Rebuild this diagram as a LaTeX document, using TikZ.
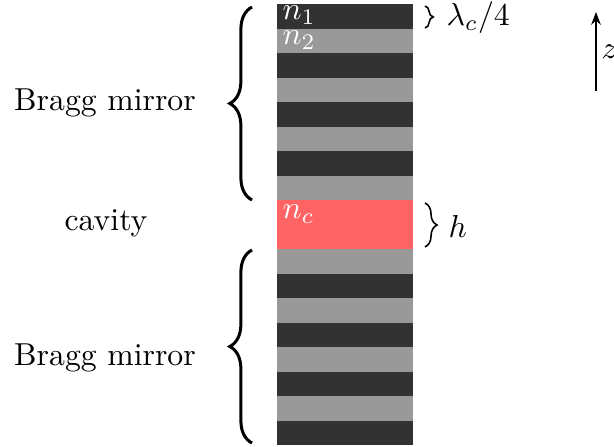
\documentclass[tikz,border=0pt]{standalone}
\usetikzlibrary{decorations.pathreplacing,arrows.meta}
\definecolor{darklayer}{RGB}{50,50,50}
\definecolor{lightlayer}{RGB}{153,153,153}
\definecolor{cavityred}{RGB}{255,99,99}
\begin{document}
\begin{tikzpicture}[x=0.315pt,y=-0.315pt,
  bigbrace/.style={decorate,decoration={brace,amplitude=7pt},line width=0.95pt},
  smallbrace/.style={decorate,decoration={brace,amplitude=#1},line width=0.5pt},
  whitelabel/.style={anchor=west,text=white,inner sep=0pt},
  sidelabel/.style={inner sep=0pt}]
\useasboundingbox (0,0) rectangle (614,447);
% top Bragg mirror
\foreach \i in {0,...,7}{
  \pgfmathsetmacro{\ytop}{4+24.5*\i}
  \pgfmathtruncatemacro{\odd}{mod(\i,2)}
  \ifnum\odd=0
    \fill[darklayer] (277,\ytop) rectangle (413,\ytop+24.5);
  \else
    \fill[lightlayer] (277,\ytop) rectangle (413,\ytop+24.5);
  \fi
}
% cavity
\fill[cavityred] (277,200) rectangle (413,249);
% bottom Bragg mirror
\foreach \i in {0,...,7}{
  \pgfmathsetmacro{\ytop}{249+24.5*\i}
  \pgfmathtruncatemacro{\odd}{mod(\i,2)}
  \ifnum\odd=0
    \fill[lightlayer] (277,\ytop) rectangle (413,\ytop+24.5);
  \else
    \fill[darklayer] (277,\ytop) rectangle (413,\ytop+24.5);
  \fi
}
% layer labels
\node[whitelabel] (n1) at (282,15) {$n_1$};
\node[whitelabel] (n2) at (282,40) {$n_2$};
\node[whitelabel] (nc) at (282,214) {$n_c$};
% big braces
\coordinate (tb1) at (252,200);
\coordinate (tb2) at (252,7);
\draw[bigbrace] (tb1) -- (tb2);
\coordinate (bb1) at (252,443);
\coordinate (bb2) at (252,250);
\draw[bigbrace] (bb1) -- (bb2);
% side labels
\node[sidelabel] (bragg1) at (105,103) {Bragg mirror};
\node[sidelabel] (cav) at (106,223) {cavity};
\node[sidelabel] (bragg2) at (105,358) {Bragg mirror};
% small braces
\coordinate (lb1) at (425,6);
\coordinate (lb2) at (425,28);
\draw[smallbrace=2.6pt] (lb1) -- (lb2);
\node[anchor=west,inner sep=0pt] (lam) at (446,18) {$\lambda_c/4$};
\coordinate (hb1) at (425,203);
\coordinate (hb2) at (425,247);
\draw[smallbrace=3.8pt] (hb1) -- (hb2);
\node[anchor=west,inner sep=0pt] (h) at (448,226) {$h$};
% z axis
\coordinate (z0) at (596,91);
\coordinate (z1) at (596,12);
\draw[line width=0.6pt,-{Stealth[length=4pt,width=3pt]}] (z0) -- (z1);
\node[anchor=west,inner sep=0pt] (zl) at (601,52) {$z$};
\end{tikzpicture}
\end{document}
